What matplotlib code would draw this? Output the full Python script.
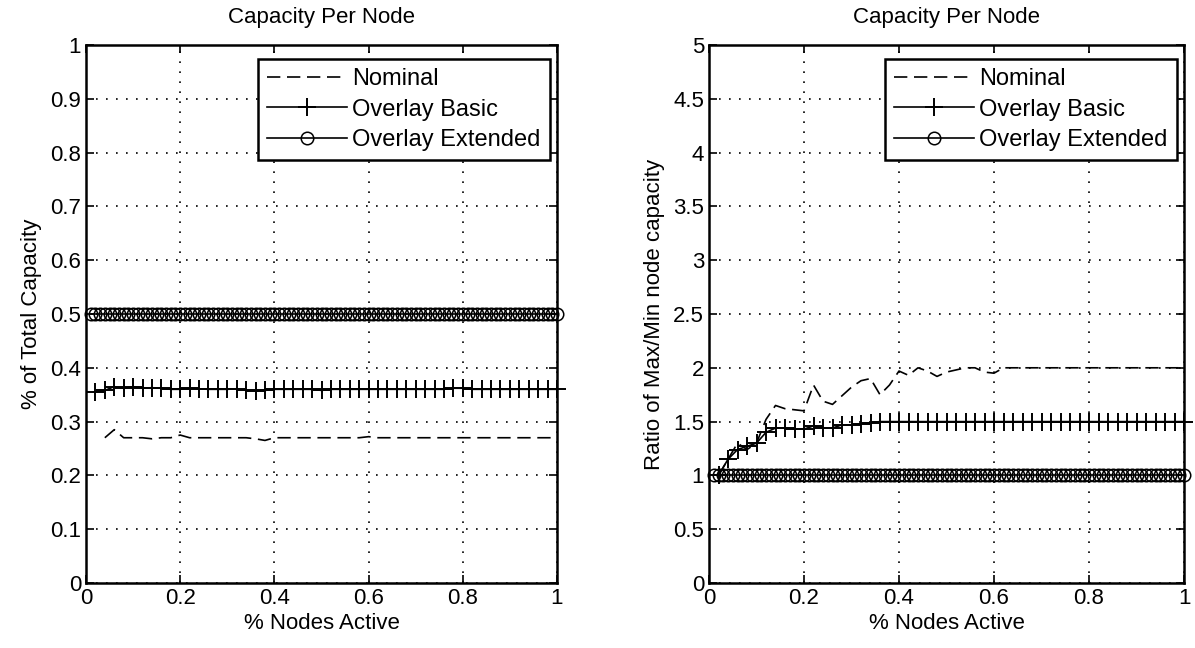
import matplotlib
matplotlib.use('Agg')
import matplotlib.pyplot as plt
import numpy as np

plt.rcParams['font.family'] = ['Liberation Sans', 'DejaVu Sans']

# x positions: fraction of nodes active
x = [round(0.02 * k, 2) for k in range(1, 51)]
x_fine = [round(0.01 * k, 2) for k in range(1, 101)]

# left panel: % of total capacity
left_nominal = [0.270, 0.285, 0.270, 0.270, 0.270, 0.268, 0.270, 0.270, 0.275,
                0.270, 0.270, 0.270, 0.270, 0.270, 0.270, 0.270, 0.268, 0.265, 0.270,
                0.270, 0.270, 0.270, 0.270, 0.270, 0.270, 0.270, 0.270, 0.270, 0.272,
                0.270, 0.270, 0.270, 0.270, 0.270, 0.270, 0.270, 0.270, 0.270, 0.270,
                0.270, 0.270, 0.270, 0.270, 0.270, 0.270, 0.270, 0.270, 0.270, 0.270]
left_basic = [0.355, 0.358, 0.365, 0.362, 0.365, 0.362, 0.363, 0.362, 0.360, 0.360,
              0.362, 0.361, 0.360, 0.360, 0.360, 0.361, 0.358, 0.357, 0.358, 0.360,
              0.360, 0.360, 0.360, 0.360, 0.358, 0.360, 0.360, 0.360, 0.360, 0.360,
              0.360, 0.360, 0.360, 0.360, 0.360, 0.360, 0.360, 0.360, 0.362, 0.362,
              0.360, 0.360, 0.360, 0.360, 0.360, 0.360, 0.360, 0.360, 0.360, 0.360]
left_ext = [0.5] * 100

# right panel: ratio of max/min node capacity
right_nominal = [1.00, 1.15, 1.30, 1.24, 1.30, 1.52, 1.65, 1.62, 1.61, 1.60,
                 1.84, 1.69, 1.66, 1.74, 1.82, 1.88, 1.90, 1.75, 1.84, 1.97,
                 1.93, 2.00, 1.97, 1.92, 1.96, 1.98, 2.00, 2.00, 1.96, 1.95,
                 2.00, 2.00, 2.00, 2.00, 2.00, 2.00, 2.00, 2.00, 2.00, 2.00,
                 2.00, 2.00, 2.00, 2.00, 2.00, 2.00, 2.00, 2.00, 2.00, 2.00]
right_basic = [1.00, 1.15, 1.24, 1.27, 1.30, 1.40, 1.44, 1.44, 1.43, 1.43,
               1.46, 1.44, 1.44, 1.47, 1.47, 1.48, 1.49, 1.50, 1.50, 1.50,
               1.50, 1.50, 1.50, 1.50, 1.50, 1.50, 1.50, 1.50, 1.50, 1.50,
               1.50, 1.50, 1.50, 1.50, 1.50, 1.50, 1.50, 1.50, 1.50, 1.50,
               1.50, 1.50, 1.50, 1.50, 1.50, 1.50, 1.50, 1.50, 1.50, 1.50]
right_ext = [1.0] * 100

labels = ['Nominal', 'Overlay Basic', 'Overlay Extended']
fs = 16

fig = plt.figure(figsize=(11.95, 6.48), dpi=100)
ax1 = fig.add_axes([86/1195, 65/648, 471/1195, 538/648])
ax2 = fig.add_axes([709/1195, 65/648, 475/1195, 538/648])


def draw(ax, nom_x, nom, basic, ext, ylim, yticks, ylabel):
    ax.plot(nom_x, nom, 'k--', lw=1.2, dashes=(8, 4), label=labels[0])
    ax.plot(x, basic, 'k-', lw=1.2, marker='+', ms=13, mew=1.4,
            label=labels[1], clip_on=False)
    ax.plot(x_fine, ext, 'k-', lw=1.2, marker='o', ms=9, mfc='none', mew=1.1,
            label=labels[2], clip_on=False)
    ax.set_xlim(0, 1)
    ax.set_ylim(*ylim)
    ax.set_xticks([0, 0.2, 0.4, 0.6, 0.8, 1])
    ax.set_xticklabels(['0', '0.2', '0.4', '0.6', '0.8', '1'])
    ax.set_yticks(yticks)
    ax.set_yticklabels(['%g' % t for t in yticks])
    ax.grid(True, ls=(0, (1, 5)), color='k', lw=1.2)
    ax.tick_params(direction='in', top=True, right=True, length=6,
                   labelsize=fs, width=1.2)
    for s in ax.spines.values():
        s.set_linewidth(1.8)
    ax.set_title('Capacity Per Node', fontsize=fs, pad=16)
    ax.set_xlabel('% Nodes Active', fontsize=fs, labelpad=3)
    ax.set_ylabel(ylabel, fontsize=fs, labelpad=6)
    leg = ax.legend(loc='upper right', bbox_to_anchor=(0.985, 0.974),
                    fontsize=17, handlelength=3.4, handletextpad=0.2,
                    borderpad=0.4, labelspacing=0.35, fancybox=False,
                    framealpha=1, edgecolor='k', borderaxespad=0)
    leg.get_frame().set_linewidth(1.8)


draw(ax1, x[1:], left_nominal, left_basic, left_ext, (0, 1),
     [0, 0.1, 0.2, 0.3, 0.4, 0.5, 0.6, 0.7, 0.8, 0.9, 1],
     '% of Total Capacity')
draw(ax2, x, right_nominal, right_basic, right_ext, (0, 5),
     [0, 0.5, 1, 1.5, 2, 2.5, 3, 3.5, 4, 4.5, 5],
     'Ratio of Max/Min node capacity')

fig.savefig('out.png', dpi=100)
